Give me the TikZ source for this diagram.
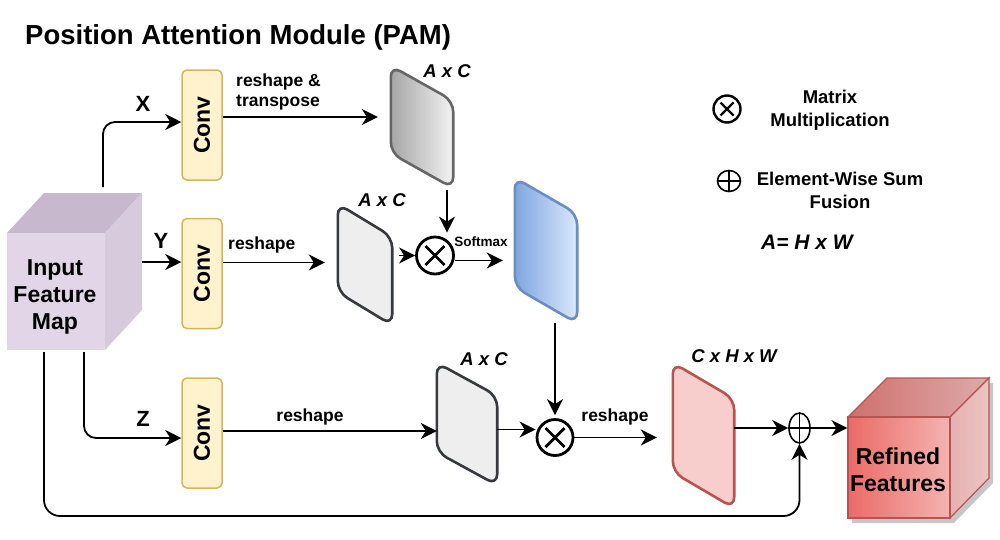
\documentclass[tikz,border=0pt]{standalone}
\usepackage{fontspec}
\setmainfont{Liberation Sans}
\usetikzlibrary{arrows.meta,calc,shapes.geometric}
\definecolor{convfill}{HTML}{FFF2CC}
\definecolor{convline}{HTML}{D6B656}
\definecolor{grayline}{HTML}{666666}
\definecolor{darkline}{HTML}{36393D}
\definecolor{lightgray}{HTML}{EEEEEE}
\definecolor{blueL}{HTML}{7EA6E0}
\definecolor{blueR}{HTML}{DAE8FC}
\definecolor{blueline}{HTML}{6C8EBF}
\definecolor{pinkfill}{HTML}{F8CECC}
\definecolor{redline}{HTML}{B85450}
\definecolor{inFront}{HTML}{E1D5E7}
\definecolor{inTop}{HTML}{C8B8CE}
\definecolor{inRight}{HTML}{D8CADD}
\definecolor{rfFrontL}{HTML}{EA6B66}
\definecolor{rfFrontR}{HTML}{F5B3B1}
\definecolor{rfTopL}{HTML}{CF706D}
\definecolor{rfTopR}{HTML}{DDAAAA}
\definecolor{rfRightL}{HTML}{E6B1B0}
\definecolor{rfRightR}{HTML}{EAC4C3}
\newcommand\drawcard[3]{\path[#3] (#1.north west) -- ([yshift=-#2pt]#1.north east) -- (#1.south east) -- ([yshift=#2pt]#1.south west) -- cycle;}
\begin{document}
\begin{tikzpicture}[x=1pt,y=-1pt,
  tip/.style={-{Stealth[length=16pt,width=16pt,inset=5pt]}},
  arr/.style={tip, line width=1.8pt},
  convbox/.style={draw=convline, fill=convfill, line width=1.5pt, rounded corners=5pt,
    minimum width=40pt, minimum height=110pt, inner sep=0pt,
    font=\bfseries\fontsize{23}{26}\selectfont},
  cardbb/.style={draw=none, inner sep=0pt},
  cardline/.style={line width=2.6pt, rounded corners=11pt},
  lbl/.style={font=\bfseries\fontsize{17.5}{20}\selectfont, inner sep=0pt},
  dim/.style={font=\bfseries\itshape\fontsize{18.5}{22}\selectfont, inner sep=0pt},
  xyz/.style={font=\bfseries\fontsize{22}{26}\selectfont, inner sep=0pt},
  big/.style={font=\bfseries\fontsize{23}{27}\selectfont, align=center, inner sep=0pt},
  leg/.style={font=\bfseries\fontsize{18.5}{23}\selectfont, align=center, inner sep=0pt},
  otimesnode/.style={circle, draw, line width=2.8pt, minimum size=#1, inner sep=0pt},
  oplusnode/.style={ellipse, draw, line width=1.6pt, inner sep=0pt}
]
\useasboundingbox (0,0) rectangle (1000,539);

% title
\node[anchor=west, font=\bfseries\fontsize{27.5}{31}\selectfont, inner sep=0pt] (title) at (25,37) {Position Attention Module (PAM)};

% input cube
\fill[inTop] (7,233) -- (44,193) -- (142,193) -- (105,233) -- cycle;
\fill[inRight] (105,233) -- (142,193) -- (142,310) -- (105,350) -- cycle;
\node[fill=inFront, minimum width=98pt, minimum height=117pt, inner sep=0pt] (inpbox) at (56,291.5) {};
\node[big] (inp) at (55,297) {Input\\Feature\\Map};

% conv boxes
\node[convbox] (cv1) at (202,125) {\rotatebox{90}{Conv}};
\node[convbox] (cv2) at (202,273.5) {\rotatebox{90}{Conv}};
\node[convbox] (cv3) at (202,433) {\rotatebox{90}{Conv}};

% cards
\node[cardbb, minimum width=62pt, minimum height=122pt] (c1) at (422,127) {};
\drawcard{c1}{35}{cardline, draw=grayline, left color=gray!70, right color=gray!10}
\node[cardbb, minimum width=54pt, minimum height=121pt] (c2) at (365,264.5) {};
\drawcard{c2}{33}{cardline, draw=darkline, fill=lightgray}
\node[cardbb, minimum width=62pt, minimum height=145pt] (cb) at (546,250.5) {};
\drawcard{cb}{36}{cardline, draw=blueline, left color=blueL, right color=blueR}
\node[cardbb, minimum width=60pt, minimum height=122pt] (c3) at (467,424) {};
\drawcard{c3}{33}{cardline, draw=darkline, fill=lightgray}
\node[cardbb, minimum width=61pt, minimum height=145pt] (pk) at (703.5,435.5) {};
\drawcard{pk}{36}{cardline, draw=redline, fill=pinkfill}

% dimension labels
\node[dim] (d1) at (447,71) {A x C};
\node[dim] (d2) at (382,200) {A x C};
\node[dim] (d3) at (484,359) {A x C};
\node[dim] (d4) at (734,356) {C x H x W};

% operators
\node[otimesnode=37pt] (m1) at (435,255.5) {};
\draw[line width=2.8pt] ($(m1.center)+(-9.5,-9.5)$) -- ($(m1.center)+(9.5,9.5)$);
\draw[line width=2.8pt] ($(m1.center)+(-9.5,9.5)$) -- ($(m1.center)+(9.5,-9.5)$);
\node[otimesnode=36pt] (m2) at (555,437.5) {};
\draw[line width=2.8pt] ($(m2.center)+(-9.5,-9.5)$) -- ($(m2.center)+(9.5,9.5)$);
\draw[line width=2.8pt] ($(m2.center)+(-9.5,9.5)$) -- ($(m2.center)+(9.5,-9.5)$);
\node[oplusnode, minimum width=21pt, minimum height=30pt] (pl) at (799.5,428) {};
\draw[line width=1.6pt] (pl.north) -- (pl.south);
\draw[line width=1.6pt] (pl.west) -- (pl.east);

% refined cube
\fill[gray!45] (852,422) -- (891,383) -- (993,383) -- (993,483) -- (954,523) -- (852,523) -- cycle;
\path[draw=redline, line width=1.2pt, left color=rfTopL, right color=rfTopR] (848,417) -- (887,378) -- (989,378) -- (950,417) -- cycle;
\path[draw=redline, line width=1.2pt, left color=rfRightL, right color=rfRightR] (950,417) -- (989,378) -- (989,478) -- (950,518) -- cycle;
\node[draw=redline, line width=1.2pt, left color=rfFrontL, right color=rfFrontR, minimum width=102pt, minimum height=101pt, inner sep=0pt] (rf) at (899,467.5) {};
\node[big] (rft) at (898,470) {Refined\\Features};

% coordinates on the input cube
\coordinate (ix) at (103,187);
\coordinate (iy) at (142,262);
\coordinate (iz) at (84,352);
\coordinate (il) at (44,352);
\coordinate (bt) at (0,516);

% connectors
\draw[arr, rounded corners=12pt] (ix) |- ([yshift=3pt]cv1.west);
\node[xyz] (lx) at (143,104) {X};
\draw[arr] (iy) -- (iy -| cv2.west);
\node[xyz] (ly) at (161,241) {Y};
\draw[arr, rounded corners=12pt] (iz) |- ([yshift=-5pt]cv3.west);
\node[xyz] (lz) at (143,419) {Z};
\draw[arr, rounded corners=16pt] (il) -- (il |- bt) -- (bt -| pl.south) -- (pl.south);

\draw[arr, shorten >=13pt] ([yshift=8pt]cv1.east) -- ([yshift=8pt]cv1.east -| c1.west);
\node[lbl, anchor=west, align=left] (l1) at (236,92) {reshape \&\\transpose};
\draw[arr, shorten >=13pt] ([yshift=11pt]cv2.east) -- ([yshift=11pt]cv2.east -| c2.west);
\node[lbl, anchor=west] (l2) at (228,245) {reshape};
\draw[arr] ([yshift=2pt]cv3.east) -- ([yshift=2pt]cv3.east -| c3.west);
\node[lbl] (l3) at (310,417) {reshape};

\draw[arr] ([xshift=25pt,yshift=-2pt]c1.south) -- ([xshift=12pt,yshift=3pt]m1.north);
\draw[arr, shorten <=7pt] (m1.west -| c2.east) -- (m1.west);
\draw[arr, shorten >=12pt] ([yshift=-5pt]m1.east) -- ([yshift=-5pt]m1.east -| cb.west);
\node[font=\bfseries\fontsize{13.5}{16}\selectfont, inner sep=0pt] (sm) at (481,242) {Softmax};

\draw[arr] (m2.north |- cb.south) -- ([yshift=3pt]m2.north);
\draw[arr] ([yshift=8pt]m2.west -| c3.east) -- ([yshift=8pt]m2.west);
\draw[arr, shorten >=16pt] (m2.east) -- (m2.east -| pk.west);
\node[lbl] (l4) at (615,417) {reshape};
\draw[arr] (pl.west -| pk.east) -- (pl.west);
\draw[arr] (pl.east) -- (pl.east -| rf.west);

% legend
\node[otimesnode=27pt, line width=2.4pt] (lm) at (727,109) {};
\draw[line width=2.4pt] ($(lm.center)+(-6.5,-6.5)$) -- ($(lm.center)+(6.5,6.5)$);
\draw[line width=2.4pt] ($(lm.center)+(-6.5,6.5)$) -- ($(lm.center)+(6.5,-6.5)$);
\node[leg] (lmt) at (830,110) {Matrix\\Multiplication};
\node[oplusnode, minimum width=23pt, minimum height=21pt] (lp) at (729,181) {};
\draw[line width=1.6pt] (lp.north) -- (lp.south);
\draw[line width=1.6pt] (lp.west) -- (lp.east);
\node[leg] (lpt) at (840,190.5) {Element-Wise Sum\\Fusion};
\node[font=\bfseries\itshape\fontsize{21}{25}\selectfont, inner sep=0pt] (aeq) at (807,242) {A= H x W};
\end{tikzpicture}
\end{document}
